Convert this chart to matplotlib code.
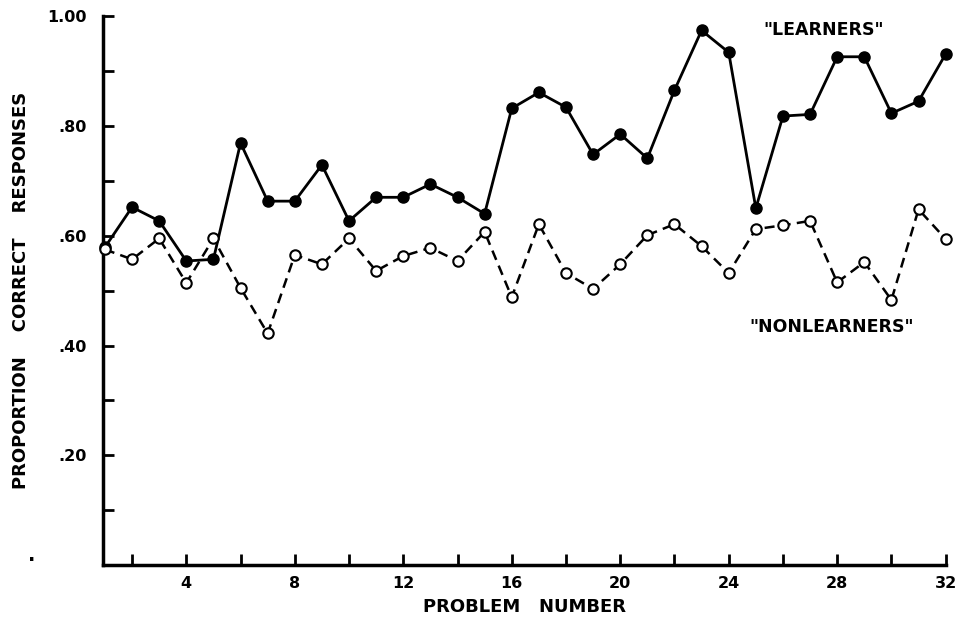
import matplotlib
matplotlib.use("Agg")
import matplotlib.pyplot as plt
from matplotlib.ticker import MultipleLocator

problems = list(range(1, 33))
learners = [0.579, 0.652, 0.627, 0.554, 0.557, 0.769, 0.663, 0.663, 0.729, 0.627,
            0.670, 0.670, 0.694, 0.670, 0.640, 0.832, 0.861, 0.834, 0.748, 0.785,
            0.741, 0.865, 0.974, 0.934, 0.650, 0.818, 0.821, 0.926, 0.926, 0.823,
            0.845, 0.931]
nonlearners = [0.575, 0.557, 0.595, 0.514, 0.595, 0.505, 0.422, 0.565, 0.548, 0.595,
               0.536, 0.563, 0.578, 0.554, 0.607, 0.488, 0.621, 0.532, 0.503, 0.548,
               0.601, 0.621, 0.581, 0.532, 0.612, 0.619, 0.627, 0.515, 0.552, 0.483,
               0.648, 0.594]
y_ticks = [0.2, 0.4, 0.6, 0.8, 1.0]
y_labels = [".20", ".40", ".60", ".80", "1.00"]
x_ticks = [4, 8, 12, 16, 20, 24, 28, 32]

plt.rcParams['font.family'] = ['DejaVu Sans']
plt.rcParams['font.weight'] = 'bold'
plt.rcParams['axes.labelweight'] = 'bold'

fig = plt.figure(figsize=(9.63, 6.21), dpi=100)
ax = fig.add_axes([0.107, 0.090, 0.875, 0.884])

ax.plot(problems, learners, color='black', lw=2.0, marker='o', markersize=8,
        markerfacecolor='black', markeredgecolor='black', zorder=3, clip_on=False)
ax.plot(problems, nonlearners, color='black', lw=1.8, linestyle=(0, (4, 2.5)),
        marker='o', markersize=7.5, markerfacecolor='white',
        markeredgecolor='black', markeredgewidth=1.5, zorder=4, clip_on=False)

ax.set_xlim(0.93, 32)
ax.set_ylim(0, 1.0)

for s in ['top', 'right']:
    ax.spines[s].set_visible(False)
for s in ['left', 'bottom']:
    ax.spines[s].set_linewidth(2.5)

ax.set_yticks(y_ticks)
ax.set_yticklabels(y_labels)
ax.yaxis.set_minor_locator(MultipleLocator(0.1))
ax.set_xticks(x_ticks)
ax.set_xticklabels([str(t) for t in x_ticks])
ax.xaxis.set_minor_locator(MultipleLocator(2))
ax.tick_params(axis='both', which='both', direction='in', width=2, length=8,
               labelsize=11.5)
ax.tick_params(axis='y', which='major', pad=12)
ax.tick_params(axis='x', which='major', pad=8)

ax.text(-0.085, 0.0, ".", transform=ax.transAxes, fontsize=14,
        ha='center', va='bottom')

ax.text(27.5, 0.975, '"LEARNERS"', fontsize=12.5, ha='center', va='center')
ax.text(27.8, 0.434, '"NONLEARNERS"', fontsize=12.5, ha='center', va='center')

ax.set_ylabel("PROPORTION    CORRECT    RESPONSES", fontsize=13, labelpad=12)
ax.set_xlabel("PROBLEM   NUMBER", fontsize=13, labelpad=5)

fig.savefig("out.png", dpi=100)
